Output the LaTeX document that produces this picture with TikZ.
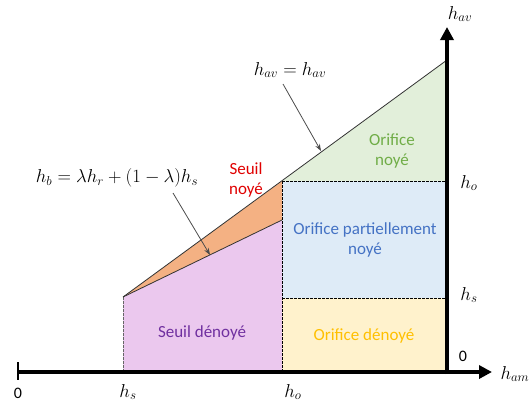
\documentclass[tikz,border=0pt]{standalone}
\usepackage{graphicx}
\usepackage{fontspec}
\setmainfont{Carlito}
\usetikzlibrary{arrows.meta}
\definecolor{cpink}{HTML}{EBC8EE}
\definecolor{corange}{HTML}{F4B183}
\definecolor{cgreen}{HTML}{E2EFDA}
\definecolor{cblue}{HTML}{DEEBF7}
\definecolor{cyellow}{HTML}{FFF2CC}
\definecolor{tgreen}{HTML}{70AD47}
\definecolor{tred}{HTML}{E00000}
\definecolor{tblue}{HTML}{4472C4}
\definecolor{tpurple}{HTML}{7030A0}
\definecolor{tgold}{HTML}{FFC000}
\newcommand\mlab[1]{\scalebox{1.08}{$#1$}}
\begin{document}
\begin{tikzpicture}[x=1pt,y=-1pt,
  zone/.style={font=\fontsize{17}{20}\selectfont, align=center},
  mathlbl/.style={font=\fontsize{17.28}{21}\selectfont},
  numlbl/.style={font=\fontsize{16}{19}\selectfont},
  axis/.style={line width=4pt, -{Triangle[length=13pt,width=13pt]}},
  dashline/.style={dashed, line width=0.6pt, dash pattern=on 2.5pt off 1.5pt},
  pointer/.style={draw=black!70, line width=0.8pt, -{Stealth[length=7pt,width=5pt]}}]
\useasboundingbox (0,0) rectangle (529,405);
% key points
\coordinate (A) at (123,297);
\coordinate (B) at (282,181);
\coordinate (C) at (282,220);
\coordinate (D) at (447,60);
\coordinate (E) at (447,181);
\coordinate (F) at (447,298);
\coordinate (G) at (282,298);
\coordinate (H) at (282,372);
\coordinate (I) at (123,372);
\coordinate (J) at (447,372);
% fills
\fill[cpink] (A) -- (C) -- (H) -- (I) -- cycle;
\fill[corange] (A) -- (B) -- (C) -- cycle;
\fill[cgreen] (B) -- (D) -- (E) -- cycle;
\fill[cblue] (B) rectangle (F);
\fill[cyellow] (G) rectangle (J);
% dashed boundaries
\draw[dashline] (B) -- (H);
\draw[dashline] (B) -- (E);
\draw[dashline] (G) -- (F);
\draw[dashline, black!60] (A) -- (I);
% sloped lines
\draw[black!80, line width=0.8pt] (A) -- (D);
\draw[black!80, line width=0.8pt] (A) -- (C);
% axes
\coordinate (O) at (18,372);
\coordinate (Xend) at (492,372);
\coordinate (Ybot) at (447,374);
\coordinate (Yend) at (447,27);
\draw[axis] (O) -- (Xend);
\draw[axis] (Ybot) -- (Yend);
\coordinate (T1) at (18,362);
\coordinate (T2) at (18,380);
\draw[line width=2.5pt] (T1) -- (T2);
% axis labels
\node[numlbl] (l0) at (18,393) {0};
\node[mathlbl] (lhs) at (128,392) {\mlab{h_s}};
\node[mathlbl] (lho) at (293,392) {\mlab{h_o}};
\node[mathlbl, anchor=west] (lham) at (497,374) {\mlab{h_{am}}};
\node[numlbl] (l0v) at (463,356) {0};
\node[mathlbl] (lhav) at (460,14) {\mlab{h_{av}}};
\node[mathlbl] (lhov) at (469,183) {\mlab{h_o}};
\node[mathlbl] (lhsv) at (469,295) {\mlab{h_s}};
% zone labels
\node[zone, text=tgreen] (zon) at (392,151) {Orifice\\noyé};
\node[zone, text=tred] (zsn) at (246,180) {Seuil\\noyé};
\node[zone, text=tblue] (zop) at (365,240) {Orifice partiellement\\noyé};
\node[zone, text=tpurple] (zsd) at (202,333) {Seuil dénoyé};
\node[zone, text=tgold] (zod) at (364,336) {Orifice dénoyé};
% formula labels and pointers
\node[mathlbl] (f1) at (290,70) {\mlab{h_{av}=h_{av}}};
\node[mathlbl] (f2) at (117,178) {\mlab{h_b=\lambda h_r+(1-\lambda)h_s}};
\coordinate (p1s) at (283,84);
\coordinate (p1e) at (321,151);
\coordinate (p2s) at (173,193);
\coordinate (p2e) at (210,255);
\draw[pointer] (p1s) -- (p1e);
\draw[pointer] (p2s) -- (p2e);
\end{tikzpicture}
\end{document}
